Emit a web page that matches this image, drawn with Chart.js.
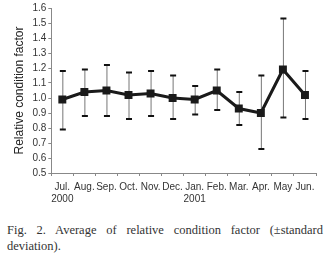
<!DOCTYPE html>
<html>
<head>
<meta charset="utf-8">
<script src="https://cdn.jsdelivr.net/npm/chart.js@4/dist/chart.umd.min.js"></script>
<style>
  body { margin: 0; background: #fff; width: 329px; }
  #wrap { width: 329px; height: 210px; }
  #caption {
    font-family: "Liberation Serif", "DejaVu Serif", serif;
    font-size: 12.5px; line-height: 16px; color: #333;
    text-align: justify;
    margin: 12px 6px 0 7px;
  }
</style>
</head>
<body>
<div id="wrap"><canvas id="rcfChart"></canvas></div>
<div id="caption">Fig. 2. Average of relative condition factor (±standard deviation).</div>
<script>
var months = ['Jul.', 'Aug.', 'Sep.', 'Oct.', 'Nov.', 'Dec.', 'Jan.', 'Feb.', 'Mar.', 'Apr.', 'May', 'Jun.'];
var years = ['2000', '', '', '', '', '', '2001', '', '', '', '', ''];
var meanRcf = [0.99, 1.04, 1.05, 1.02, 1.03, 1.00, 0.99, 1.05, 0.93, 0.90, 1.19, 1.02];
var upperSd = [1.18, 1.19, 1.22, 1.17, 1.18, 1.15, 1.08, 1.19, 1.04, 1.15, 1.53, 1.18];
var lowerSd = [0.79, 0.88, 0.88, 0.86, 0.88, 0.86, 0.89, 0.92, 0.82, 0.66, 0.87, 0.86];
var yTicks = [0.5, 0.6, 0.7, 0.8, 0.9, 1.0, 1.1, 1.2, 1.3, 1.4, 1.5, 1.6];

// whiskers drawn under the line
var errorBars = {
    id: 'errorBars',
    beforeDatasetsDraw: function(chart) {
        var c = chart.ctx;
        var x = chart.scales.x, y = chart.scales.y;
        c.save();
        for (var i = 0; i < meanRcf.length; i++) {
            var px = x.getPixelForValue(i);
            var top = y.getPixelForValue(upperSd[i]);
            var bot = y.getPixelForValue(lowerSd[i]);
            c.strokeStyle = '#777';
            c.lineWidth = 1;
            c.beginPath();
            c.moveTo(px + 0.5, top);
            c.lineTo(px + 0.5, bot);
            c.stroke();
            c.strokeStyle = '#111';
            c.lineWidth = 2;
            c.beginPath();
            c.moveTo(px - 2.5, top);
            c.lineTo(px + 3.5, top);
            c.moveTo(px - 2.5, bot);
            c.lineTo(px + 3.5, bot);
            c.stroke();
        }
        c.restore();
    }
};

var ctx = document.getElementById('rcfChart').getContext('2d');
var rcfChart = new Chart(ctx, {
    type: 'line',
    data: {
        labels: months.map(function(m, i) { return [m, years[i]]; }),
        datasets: [{
            data: meanRcf,
            borderColor: '#1a1a1a',
            backgroundColor: '#1a1a1a',
            borderWidth: 3,
            pointStyle: 'rect',
            pointRadius: 3.5,
            tension: 0
        }]
    },
    plugins: [errorBars],
    options: {
        responsive: true,
        maintainAspectRatio: false,
        animation: false,
        layout: { padding: { top: 8, right: 13, left: 8, bottom: 0 } },
        plugins: { legend: { display: false }, tooltip: { enabled: false } },
        scales: {
            x: {
                offset: true,
                grid: { offset: true, drawOnChartArea: false, drawTicks: true, tickLength: 3, color: '#888' },
                border: { color: '#888' },
                ticks: {
                    color: '#333', maxRotation: 0, autoSkip: false, padding: 5,
                    font: { family: 'Liberation Sans Narrow, Liberation Sans, sans-serif', size: 10 }
                }
            },
            y: {
                min: 0.5,
                max: 1.6,
                afterBuildTicks: function(axis) {
                    axis.ticks = yTicks.map(function(v) { return { value: v }; });
                },
                grid: { drawOnChartArea: false, drawTicks: true, tickLength: 3, color: '#888' },
                border: { color: '#888' },
                ticks: {
                    color: '#333', padding: 2, autoSkip: false,
                    font: { family: 'Liberation Sans Narrow, Liberation Sans, sans-serif', size: 10 },
                    callback: function(v) { return Number(v).toFixed(1); }
                },
                title: {
                    display: true,
                    text: 'Relative condition factor',
                    color: '#222',
                    padding: 4,
                    font: { family: 'Liberation Sans, sans-serif', size: 12 }
                }
            }
        }
    }
});
</script>
</body>
</html>
